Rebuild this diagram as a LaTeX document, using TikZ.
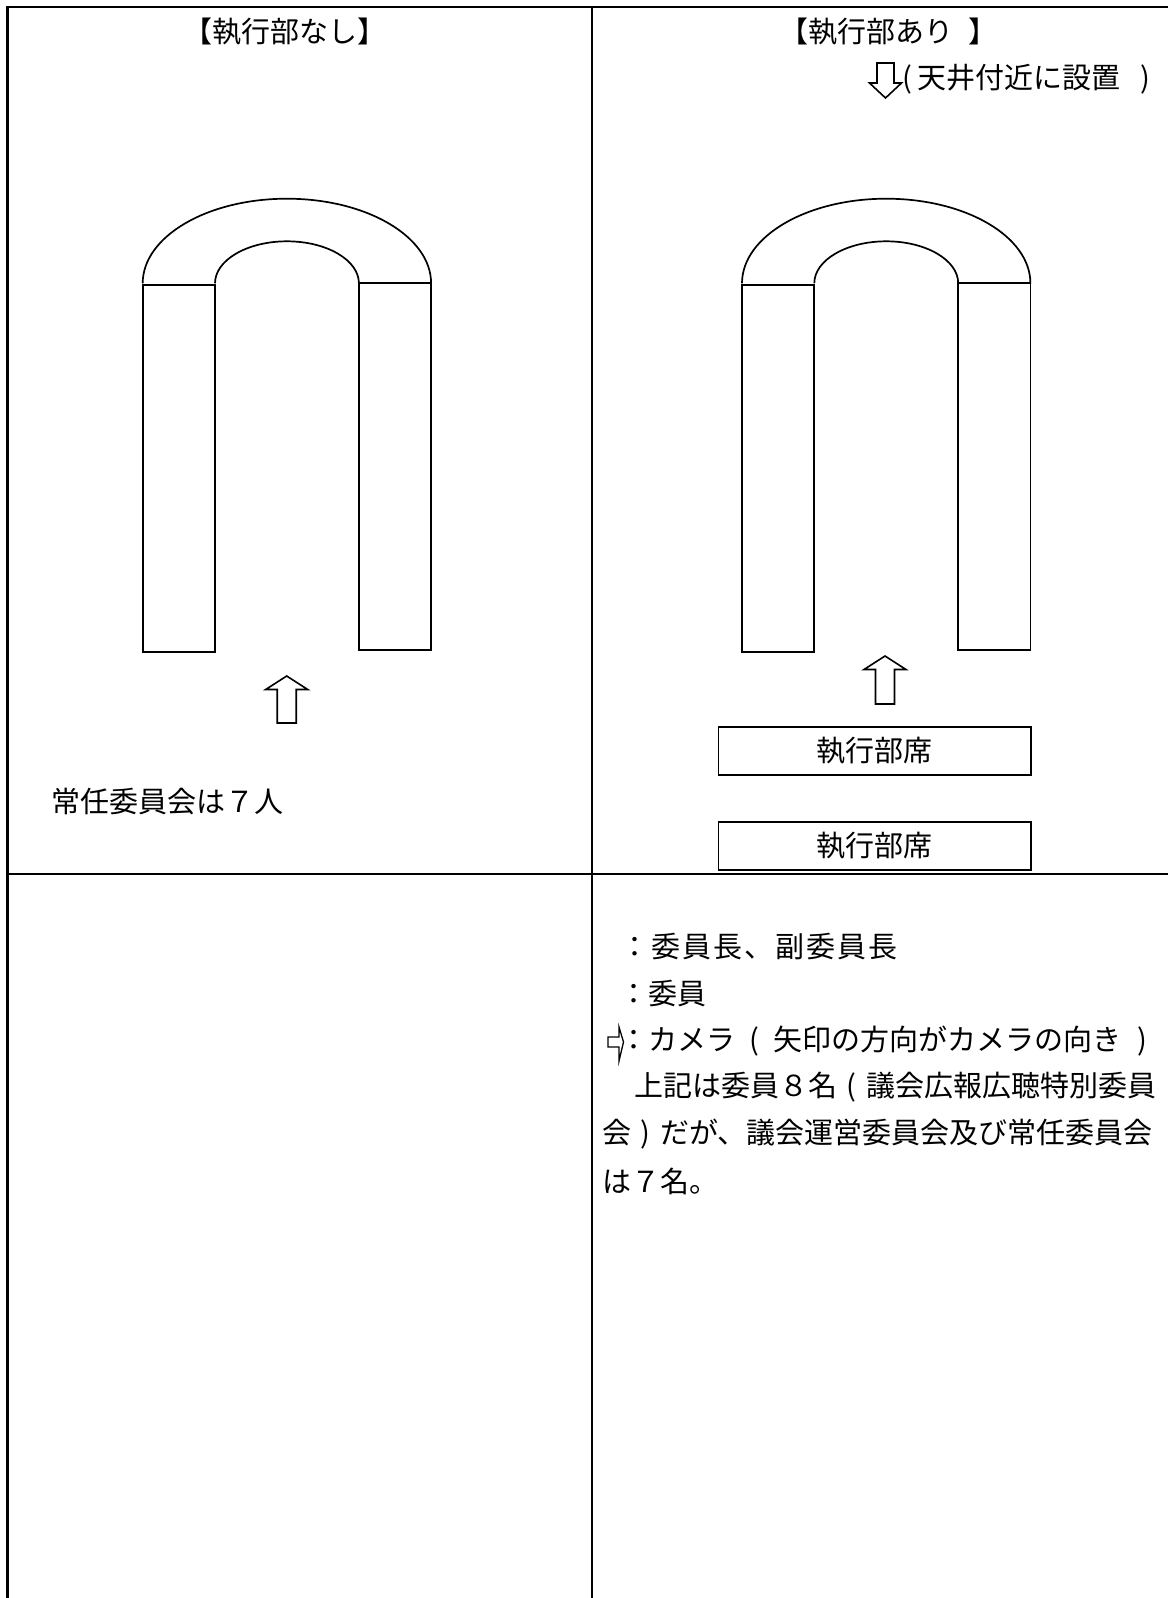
\documentclass[tikz,border=0pt]{standalone}
\usepackage{fontspec}
\setmainfont{Noto Sans CJK JP}
\makeatletter
\newcommand\gridtxt[2]{\def\gt@w{#1}\gt@loop#2\gt@stop}
\def\gt@stop{gt@stop}
\def\gt@loop#1{\ifx#1\gt@stop\else\makebox[\gt@w]{#1}\expandafter\gt@loop\fi}
\makeatother
\begin{document}
\begin{tikzpicture}[x=1pt,y=-1pt,
  tbl/.style={line width=2.6pt},
  plan/.style={line width=1.7pt},
  txt/.style={inner sep=0pt,font=\fontsize{29}{29}\selectfont},
  seat/.style={draw,line width=1.8pt,minimum width=312.5pt,minimum height=48pt,inner sep=0pt,font=\fontsize{29}{29}\selectfont},
  cam/.style={draw,line width=1.6pt,line join=miter}]
\useasboundingbox (0,0) rectangle (1168,1598);
% table
\draw[tbl] (7.5,7) -- (1168,7);
\draw[tbl] (7.5,5.7) -- (7.5,1598);
\draw[tbl] (592,7) -- (592,1598);
\draw[tbl] (7.5,874) -- (1168,874);
% U-shaped desks
\foreach \dx in {0,599.3}{
  \begin{scope}[xshift=\dx pt]
  \draw[plan] (142.7,283.3) arc[start angle=180,end angle=360,x radius=144.2,y radius=84.6];
  \draw[plan] (215,283.3) arc[start angle=180,end angle=360,x radius=71.95,y radius=42];
  \draw[plan] (142.7,285) rectangle (215,652);
  \draw[plan] (359,283.3) rectangle (431.1,650);
  \end{scope}
}
% camera arrows (up)
\draw[cam] (286.7,676) -- (307.7,689.5) -- (296.2,689.5) -- (296.2,723) -- (277.2,723) -- (277.2,689.5) -- (265.7,689.5) -- cycle;
\draw[cam] (885,656) -- (906,669.5) -- (894.5,669.5) -- (894.5,704) -- (875.5,704) -- (875.5,669.5) -- (864,669.5) -- cycle;
% ceiling camera (down)
\draw[cam] (877,63) -- (894,63) -- (894,83) -- (901.5,83) -- (885.5,98) -- (869.5,83) -- (877,83) -- cycle;
% legend camera (right)
\draw[cam,line width=1.3pt] (608,1037) -- (619,1037) -- (619,1027) -- (623.5,1042) -- (619,1061) -- (619,1047) -- (608,1047) -- cycle;
% texts
\node[txt] (hdrL) at (285,32) {【執行部なし】};
\node[txt] (hdrR) at (888,32) {【執行部あり\hspace{15pt}】};
\node[txt,anchor=west] (ceil) at (902,79) {(\hspace{6pt}天井付近に設置\hspace{20pt})};
\node[txt,anchor=west] (note7) at (51,801) {常任委員会は７人};
\node[seat] (exec1) at (874.7,751) {執行部席};
\node[seat] (exec2) at (874.7,846) {執行部席};
\node[txt,anchor=west] (lg1) at (619,947) {\gridtxt{31pt}{：委員長、副委員長}};
\node[txt,anchor=west] (lg2) at (619,994) {：委員};
\node[txt,anchor=west] (lg3) at (619,1041) {：カメラ\makebox[38pt]{(}矢印の方向がカメラの向き\makebox[42pt]{)}};
\node[txt,anchor=west] (lg4) at (634,1087) {上記は委員８名\makebox[29pt]{(}議会広報広聴特別委員};
\node[txt,anchor=west] (lg5) at (602,1134) {会\makebox[29pt]{)}だが、議会運営委員会及び常任委員会};
\node[txt,anchor=west] (lg6) at (602,1181) {は７名。};
\end{tikzpicture}
\end{document}
